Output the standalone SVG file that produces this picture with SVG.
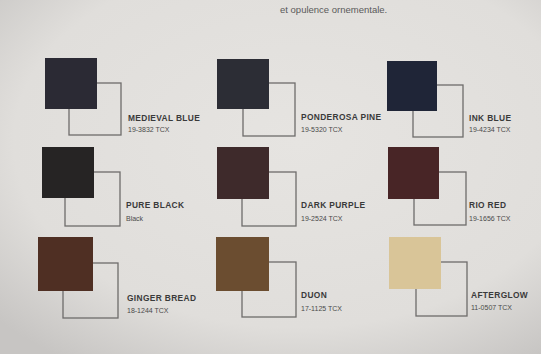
<svg xmlns="http://www.w3.org/2000/svg" width="541" height="354" viewBox="0 0 541 354">
<defs>
<radialGradient id="bg" cx="0.55" cy="0.4" r="0.75">
<stop offset="0" stop-color="#e6e4e1"/>
<stop offset="0.7" stop-color="#e0dedb"/>
<stop offset="1" stop-color="#c7c5c3"/>
</radialGradient>
<style>
.o{fill:none;stroke:#6e6c6b;stroke-width:1.3}
.n{font-family:"Liberation Sans",Arial,sans-serif;font-size:8.4px;letter-spacing:0.35px;font-weight:bold;fill:#3a3a3a}
.c{font-family:"Liberation Sans",Arial,sans-serif;font-size:7px;fill:#4a4a4a}
.t{font-family:"Liberation Sans",Arial,sans-serif;font-size:9.5px;fill:#5a5a5a}
</style>
</defs>
<rect width="541" height="354" fill="url(#bg)"/>
<text class="t" x="280" y="13">et opulence ornementale.</text>
<g id="medieval-blue">
<rect class="o" x="69" y="83" width="52" height="52"/>
<rect x="45" y="58" width="52" height="51" fill="#2b2a34"/>
<text class="n" x="128" y="121">MEDIEVAL BLUE</text>
<text class="c" x="128" y="132">19-3832 TCX</text>
</g>
<g id="ponderosa-pine">
<rect class="o" x="243" y="83" width="52" height="53"/>
<rect x="217" y="59" width="52" height="50" fill="#2c2d35"/>
<text class="n" x="301" y="120">PONDEROSA PINE</text>
<text class="c" x="301" y="132">19-5320 TCX</text>
</g>
<g id="ink-blue">
<rect class="o" x="413" y="85" width="50" height="52"/>
<rect x="387" y="61" width="50" height="50" fill="#1f2537"/>
<text class="n" x="469" y="121">INK BLUE</text>
<text class="c" x="469" y="132">19-4234 TCX</text>
</g>
<g id="pure-black">
<rect class="o" x="65" y="172" width="55" height="54"/>
<rect x="42" y="147" width="52" height="51" fill="#262424"/>
<text class="n" x="126" y="208">PURE BLACK</text>
<text class="c" x="126" y="221">Black</text>
</g>
<g id="dark-purple">
<rect class="o" x="242" y="172" width="54" height="54"/>
<rect x="217" y="147" width="52" height="52" fill="#3e2a2b"/>
<text class="n" x="301" y="208">DARK PURPLE</text>
<text class="c" x="301" y="221">19-2524 TCX</text>
</g>
<g id="rio-red">
<rect class="o" x="414" y="172" width="52" height="53"/>
<rect x="388" y="147" width="51" height="52" fill="#482526"/>
<text class="n" x="469" y="208">RIO RED</text>
<text class="c" x="469" y="221">19-1656 TCX</text>
</g>
<g id="ginger-bread">
<rect class="o" x="63" y="263" width="55" height="55"/>
<rect x="38" y="237" width="55" height="54" fill="#4f2f23"/>
<text class="n" x="127" y="301">GINGER BREAD</text>
<text class="c" x="127" y="313">18-1244 TCX</text>
</g>
<g id="duon">
<rect class="o" x="242" y="262" width="54" height="55"/>
<rect x="216" y="237" width="53" height="54" fill="#6b4d30"/>
<text class="n" x="301" y="298">DUON</text>
<text class="c" x="301" y="311">17-1125 TCX</text>
</g>
<g id="afterglow">
<rect class="o" x="416" y="262" width="51" height="54" stroke="#a8a6a3"/>
<rect x="389" y="237" width="52" height="52" fill="#d9c598"/>
<text class="n" x="471" y="298">AFTERGLOW</text>
<text class="c" x="471" y="310">11-0507 TCX</text>
</g>
</svg>
